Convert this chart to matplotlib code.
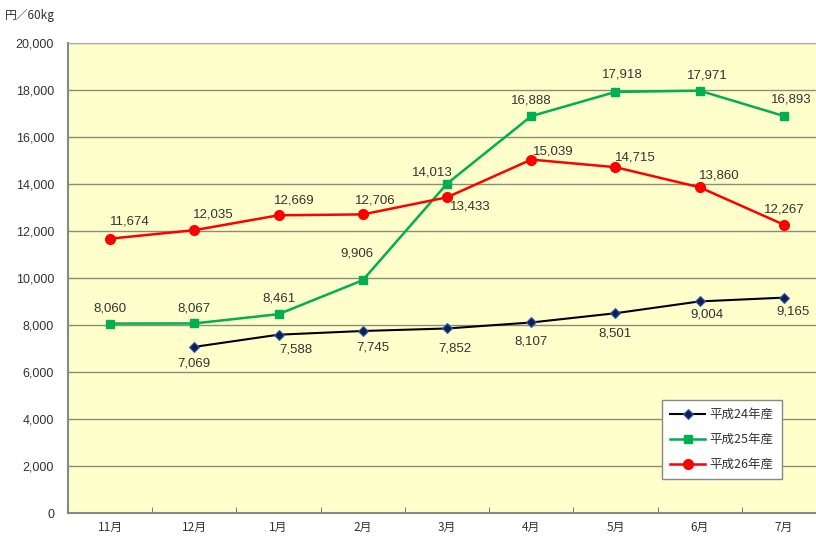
import matplotlib
matplotlib.use('Agg')
import matplotlib.pyplot as plt
from matplotlib.ticker import FuncFormatter, MultipleLocator

plt.rcParams['font.family'] = ['Noto Sans CJK JP', 'DejaVu Sans']

months = ['11月', '12月', '1月', '2月', '3月', '4月', '5月', '6月', '7月']
h24 = [None, 7069, 7588, 7745, 7852, 8107, 8501, 9004, 9165]
h25 = [8060, 8067, 8461, 9906, 14013, 16888, 17918, 17971, 16893]
h26 = [11674, 12035, 12669, 12706, 13433, 15039, 14715, 13860, 12267]

# ラベル位置のオフセット (px, 上が正)
off24 = [None, (0, -17), (17, -15), (10, -17), (8, -20), (0, -19), (0, -20), (7, -13), (9, -14)]
off25 = [(0, 15), (0, 15), (0, 16), (-6, 27), (-15, 11), (0, 16), (7, 17), (8, 15), (7, 17)]
off26 = [(20, 17), (19, 16), (16, 15), (12, 14), (23, -9), (22, 8), (20, 10), (20, 12), (0, 15)]

fig = plt.figure(figsize=(8.16, 5.38), dpi=100)
ax = fig.add_axes([68 / 816, 25 / 538, 758 / 816, 470 / 538])
ax.set_facecolor('#FFFFCC')

x = list(range(len(months)))
x24 = [i for i, v in zip(x, h24) if v is not None]
v24 = [v for v in h24 if v is not None]

ax.plot(x24, v24, color='black', lw=1.5, marker='D', ms=5.5,
        mfc='#10204a', mec='#3060c0', mew=0.8, label='平成24年産', zorder=4)
ax.plot(x, h25, color='#00b050', lw=1.8, marker='s', ms=6,
        mfc='#00b050', mec='#00b050', label='平成25年産', zorder=3)
ax.plot(x, h26, color='#ff0000', lw=1.8, marker='o', ms=7,
        mfc='#ff0000', mec='#ff0000', label='平成26年産', zorder=3)

for vals, offs in [(h24, off24), (h25, off25), (h26, off26)]:
    for i, (v, o) in enumerate(zip(vals, offs)):
        if v is None:
            continue
        ax.annotate(f'{v:,}', xy=(i, v), xytext=o, textcoords='offset pixels',
                    ha='center', va='center', fontsize=9.5, color='#333333',
                    family=['Liberation Sans'])

ax.set_xlim(-0.5, len(months) - 0.5)
ax.set_ylim(0, 20000)
ax.yaxis.set_major_locator(MultipleLocator(2000))
ax.yaxis.set_major_formatter(FuncFormatter(lambda v, p: f'{int(v):,}'))
ax.grid(axis='y', color='#8c8c78', lw=1.0)
ax.set_axisbelow(True)

ax.set_xticks(x)
ax.set_xticklabels(months, fontsize=8.5, color='#333333')
ax.set_xticks([i - 0.5 for i in range(len(months) + 1)], minor=True)
ax.tick_params(axis='x', which='major', length=0, pad=6)
ax.tick_params(axis='x', which='minor', direction='in', length=4, color='#666666')
ax.tick_params(axis='y', length=0, labelsize=9, labelcolor='#333333', pad=10)
for lab in ax.get_yticklabels():
    lab.set_family(['Liberation Sans'])

for s in ['left', 'bottom']:
    ax.spines[s].set_color('#888888')
    ax.spines[s].set_linewidth(1.5)
ax.spines['top'].set_color('#aaaaaa')
ax.spines['right'].set_visible(False)

fig.text(5 / 816, 1 - 15 / 538, '円／60kg', fontsize=8.5, color='#333333', va='center')

leg = ax.legend(loc='upper left', bbox_to_anchor=((662 - 68) / 758, (513 - 400) / 470),
                fontsize=9, frameon=True, fancybox=False, edgecolor='#888888',
                labelspacing=0.95, handlelength=2.8, handletextpad=0.35,
                borderpad=0.65, borderaxespad=0, framealpha=1)
leg.get_frame().set_linewidth(1.0)
for t in leg.get_texts():
    t.set_color('#333333')

fig.savefig('out.png', dpi=100)
